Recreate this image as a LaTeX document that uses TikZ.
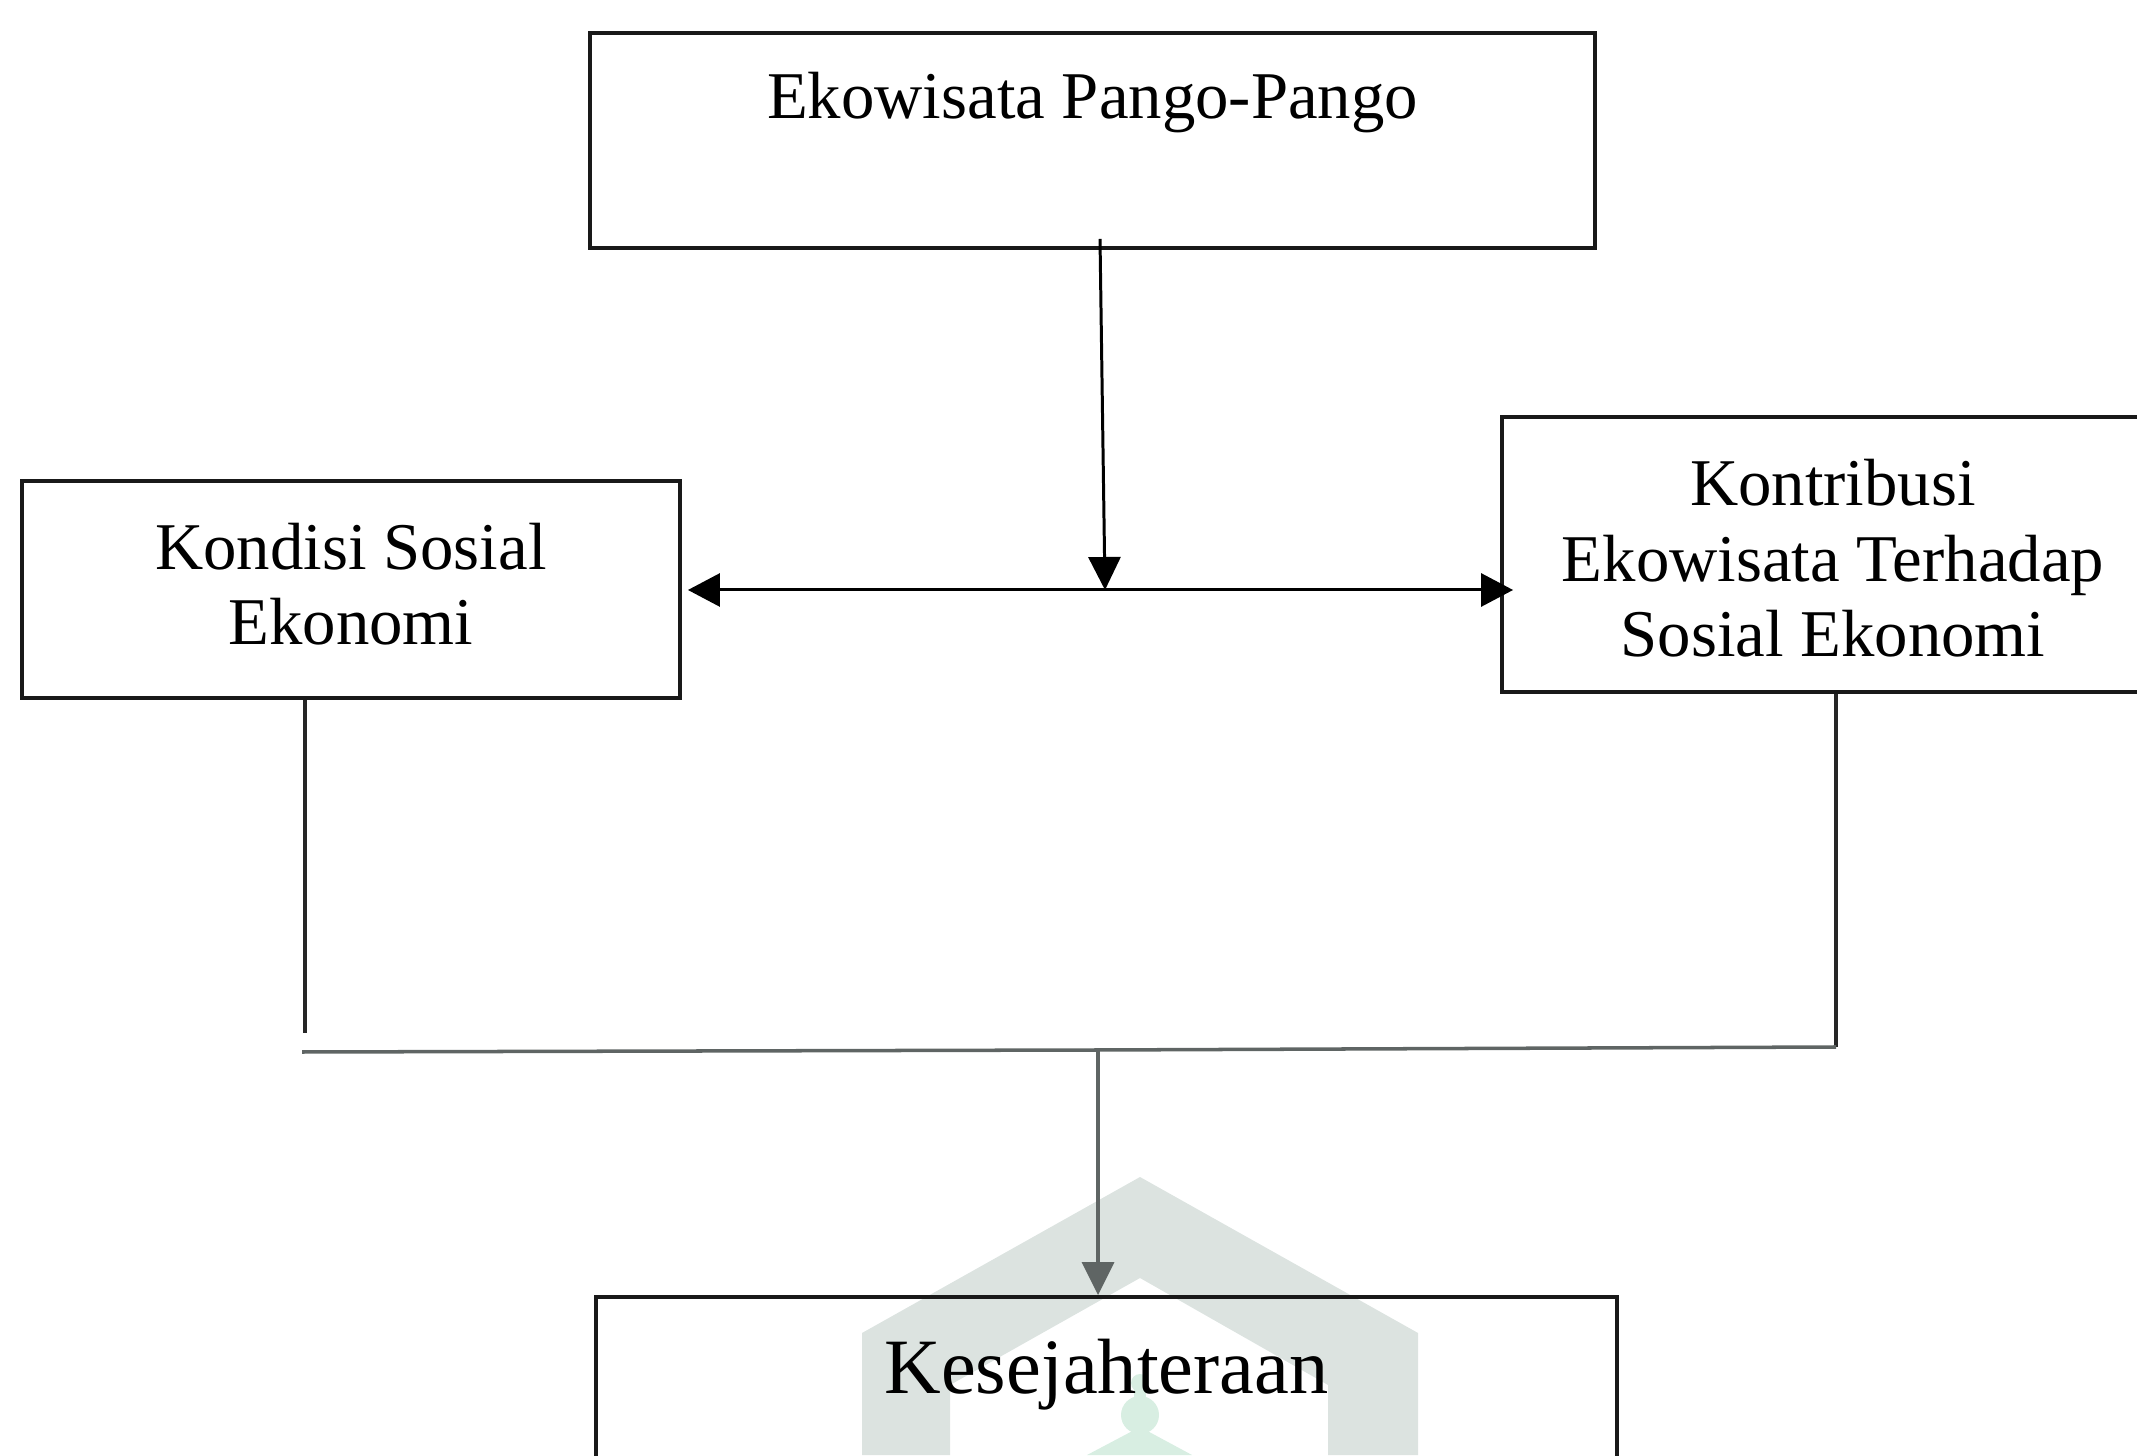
\documentclass[tikz,border=0pt]{standalone}
\usepackage{fontspec}
\setmainfont{Liberation Serif}
\usetikzlibrary{arrows.meta}
\definecolor{stempel}{HTML}{DCE3E0}
\definecolor{menara}{HTML}{D8EEE2}
\definecolor{garis}{HTML}{5F6564}
\tikzset{
  kotak/.style={draw=black!90,line width=1.1pt,align=center,font=\fontsize{19}{21.5}\selectfont,inner sep=0pt},
  panah/.style={-{Triangle[length=3.3mm,width=3.2mm]},line width=0.85pt},
  panahdua/.style={{Triangle[length=3.2mm,width=3.3mm]}-{Triangle[length=3.2mm,width=3.3mm]},line width=0.85pt},
}
\begin{document}
\begin{tikzpicture}
  \useasboundingbox (0,0) rectangle (21.37,14.55);
  \clip (0,0) rectangle (21.37,14.55);

  % stempel
  \fill[stempel] (8.62,0) -- (8.62,1.22) -- (11.40,2.78) -- (14.18,1.22) -- (14.18,0) -- (13.28,0) -- (13.28,0.70) -- (11.40,1.77) -- (9.50,0.70) -- (9.50,0) -- cycle;
  \fill[menara] (10.87,0) -- (11.40,0.28) -- (11.92,0) -- cycle;
  \fill[menara] (11.40,0.40) circle (0.19);
  \fill[menara] (11.40,0.72) circle (0.09);
  \fill[menara] (11.34,0.40) rectangle (11.46,0.72);

  \node[kotak,minimum width=10.05cm,minimum height=2.15cm] (ekowisata) at (10.925,13.145) {Ekowisata Pango-Pango\\[4.4pt]~};
  \node[kotak,minimum width=6.58cm,minimum height=2.17cm] (kondisi) at (3.51,8.655) {Kondisi Sosial\\Ekonomi\\[-18.4pt]~};
  \node[kotak,minimum width=6.62cm,minimum height=2.75cm] (kontribusi) at (18.33,9.005) {\rule{0pt}{15.3pt}Kontribusi\\Ekowisata Terhadap\\Sosial Ekonomi};
  \node[kotak,minimum width=10.21cm,minimum height=2.15cm,font=\fontsize{22.3}{24}\selectfont] (sejahtera) at (11.065,0.505) {Kesejahteraan\\[-2.5pt]~};

  \coordinate (atas) at (11.00,12.16);
  \coordinate (tengah) at (11.05,8.65);
  \coordinate (kiribawah) at (3.05,4.22);
  \coordinate (kirisudut) at (3.02,4.03);
  \coordinate (kanansudut) at (18.36,4.08);
  \coordinate (cabang) at (10.98,4.05);

  \draw[panah] (atas) -- (tengah);
  \draw[panahdua,shorten <=0.6mm,shorten >=-1.3mm] (tengah -| kondisi.east) -- (tengah -| kontribusi.west);

  \draw[line width=1.1pt,black!85] (kiribawah |- kondisi.south) -- (kiribawah);
  \draw[line width=1.1pt,black!85] (kanansudut |- kontribusi.south) -- (kanansudut);
  \draw[line width=1pt,garis] (kirisudut) -- (cabang) -- (kanansudut);
  \draw[panah,garis,line width=1pt] (cabang) -- (cabang |- sejahtera.north);
\end{tikzpicture}
\end{document}
